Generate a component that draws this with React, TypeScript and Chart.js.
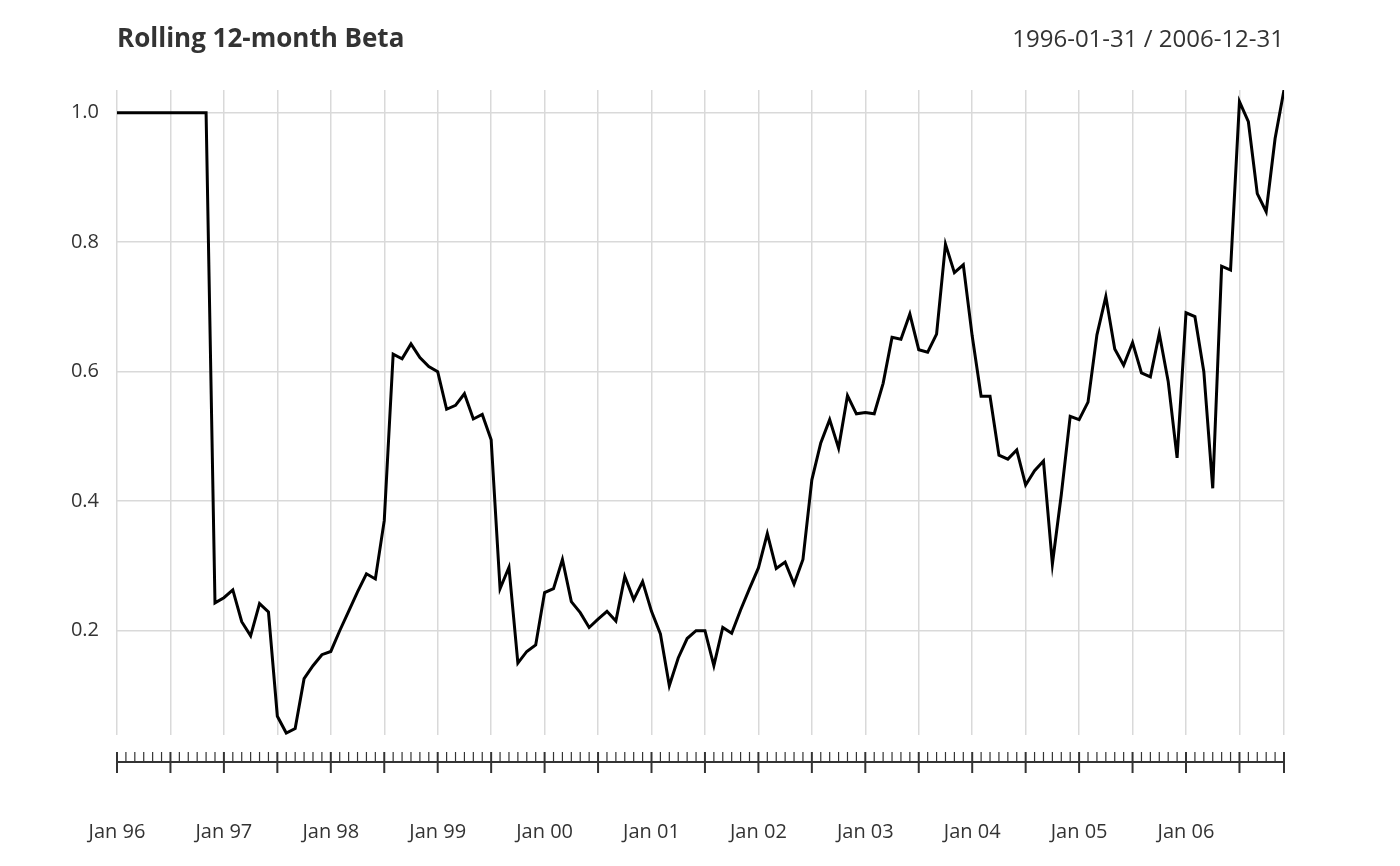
import React, { useEffect, useRef } from "react";
import { Chart, registerables } from "chart.js";
Chart.register(...registerables);

const title = "Rolling 12-month Beta";
const dateRange = "1996-01-31 / 2006-12-31";
const yearLabels = ["Jan 96","Jan 97","Jan 98","Jan 99","Jan 00","Jan 01","Jan 02","Jan 03","Jan 04","Jan 05","Jan 06"];
const yTicks = [0.2, 0.4, 0.6, 0.8, 1.0];
const beta: number[] = [
  1,1,1,1,1,1,1,1,1,1,1,
  0.243,0.251,0.263,0.214,0.192,0.242,0.229,0.068,0.042,0.049,0.126,0.146,0.163,0.168,
  0.2,0.23,0.26,0.288,0.28,0.37,0.627,0.62,0.643,0.622,
  0.608,0.60,0.542,0.548,0.566,0.527,0.534,0.495,0.265,0.298,
  0.15,0.168,0.178,0.259,0.265,0.31,0.245,0.228,0.205,0.218,
  0.23,0.215,0.284,0.248,0.276,0.23,0.195,0.115,0.158,0.188,
  0.2,0.2,0.146,0.205,0.196,0.232,0.265,0.297,0.35,0.296,
  0.306,0.272,0.31,0.433,0.49,0.526,0.482,0.563,0.535,0.537,
  0.535,0.582,0.653,0.65,0.689,0.634,0.63,0.658,0.797,0.753,
  0.765,0.655,0.562,0.562,0.471,0.465,0.479,0.425,0.447,0.462,
  0.303,0.41,0.531,0.526,0.553,0.657,0.716,0.635,0.61,0.645,
  0.598,0.592,0.659,0.585,0.467,0.691,0.685,0.6,0.42,0.763,
  0.757,1.017,0.986,0.875,0.847,0.96,1.035,
];

const FONT = "'Open Sans', sans-serif";

export default function App() {
  const ref = useRef<HTMLCanvasElement>(null);
  useEffect(() => {
    const axisPlugin = {
      id: "bottomAxis",
      afterDraw(chart: any) {
        const ctx = chart.ctx;
        const xs = chart.scales.x;
        const n = beta.length;
        const yLine = 762;
        ctx.save();
        ctx.strokeStyle = "#333";
        ctx.lineWidth = 2;
        ctx.beginPath();
        ctx.moveTo(xs.getPixelForValue(0), yLine);
        ctx.lineTo(xs.getPixelForValue(n - 1), yLine);
        ctx.stroke();
        ctx.lineWidth = 1.2;
        for (let i = 0; i < n; i++) {
          const px = xs.getPixelForValue(i);
          ctx.beginPath();
          if (i % 6 === 0 || i === n - 1) {
            ctx.lineWidth = 2;
            ctx.moveTo(px, 752);
            ctx.lineTo(px, 773);
          } else {
            ctx.lineWidth = 1.2;
            ctx.moveTo(px, 752);
            ctx.lineTo(px, 762);
          }
          ctx.stroke();
        }
        ctx.fillStyle = "#333";
        ctx.font = `20px ${FONT}`;
        ctx.textAlign = "center";
        ctx.textBaseline = "middle";
        yearLabels.forEach((l, k) => ctx.fillText(l, xs.getPixelForValue(k * 12), 832));
        ctx.font = `bold 26px ${FONT}`;
        ctx.textAlign = "left";
        ctx.fillText(title, 117, 40);
        ctx.font = `24px ${FONT}`;
        ctx.textAlign = "right";
        ctx.fillText(dateRange, 1284, 40);
        ctx.restore();
      },
    };
    const chart = new Chart(ref.current!, {
      type: "line",
      data: {
        labels: beta.map((_, i) => i),
        datasets: [{
          data: beta.map((v, i) => ({ x: i, y: v })),
          borderColor: "#000",
          borderWidth: 3,
          pointRadius: 0,
          tension: 0,
        }],
      },
      options: {
        animation: false,
        responsive: false,
        layout: { padding: { left: 0, top: 90, right: 116, bottom: 131 } },
        plugins: { legend: { display: false }, tooltip: { enabled: false } },
        scales: {
          x: {
            type: "linear",
            min: 0,
            max: beta.length - 1,
            ticks: { display: false, stepSize: 6 },
            grid: { color: "#d9d9d9", lineWidth: 1.5, drawTicks: false },
            border: { display: false },
            afterFit: (s: any) => { s.height = 0; },
          },
          y: {
            min: 0.039,
            max: 1.035,
            afterBuildTicks: (s: any) => { s.ticks = yTicks.map((v) => ({ value: v })); },
            afterFit: (s: any) => { s.width = 117; },
            ticks: {
              color: "#333",
              font: { family: FONT, size: 20 },
              padding: 18,
              callback: (v: any) => Number(v).toFixed(1),
            },
            grid: { color: "#d9d9d9", lineWidth: 1.5, drawTicks: false },
            border: { display: false },
          },
        },
      },
      plugins: [axisPlugin],
    } as any);
    return () => chart.destroy();
  }, []);
  return (
    <canvas ref={ref} width={1400} height={866}
      style={{ position: "absolute", left: 0, top: 0, width: 1400, height: 866, background: "#fff" }} />
  );
}
